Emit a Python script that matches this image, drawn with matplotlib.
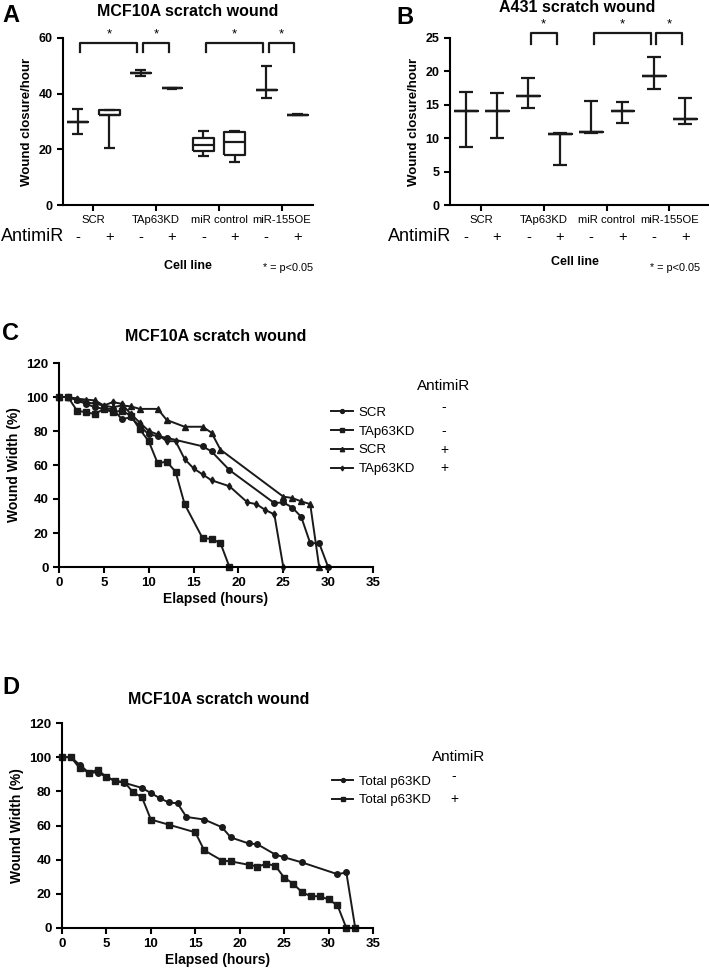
import numpy as np
import matplotlib
matplotlib.use("Agg")
from matplotlib import pyplot as plt

plt.rcParams['font.family'] = ['Liberation Sans', 'DejaVu Sans']

W, H = 709, 968

# panel A / B data (min, q1, median, q3, max per group)
groups = ["SCR", "TAp63KD", "miR control", "miR-155OE"]
antimir = ["-", "+", "-", "+", "-", "+", "-", "+"]

a_min = [25.4, 20.5, 46.3, 41.7, 17.5, 15.5, 38.5, 32.3]
a_q1 = [30.0, 32.5, 47.4, 42.0, 19.5, 17.8, 41.3, 32.5]
a_med = [30.0, 32.5, 47.4, 42.0, 21.7, 22.6, 41.3, 32.5]
a_q3 = [30.0, 34.3, 47.4, 42.0, 23.9, 26.3, 41.3, 32.5]
a_max = [34.6, 34.3, 48.4, 42.2, 26.5, 26.5, 50.0, 32.6]
a_sig = [(0, 2), (2, 3), (4, 6), (6, 7)]

b_min = [8.7, 10.1, 14.5, 6.0, 10.8, 12.3, 17.3, 12.1]
b_med = [14.0, 14.0, 16.3, 10.7, 11.0, 14.0, 19.3, 12.9]
b_max = [16.9, 16.8, 19.0, 10.8, 15.6, 15.4, 22.1, 16.0]
b_sig = [(2, 3), (4, 6), (6, 7)]

# panel C data
c_t_scr_m = [0, 1, 2, 3, 4, 5, 6, 7, 8, 9, 10, 11, 12, 16, 17, 19, 24, 25, 26, 27, 28, 29, 30]
c_w_scr_m = [100, 100, 98, 96, 94, 93, 93, 87, 88, 83, 78, 77, 76, 71, 68, 57, 37.6, 38, 35, 29.5, 14, 14, 0]
c_t_tap_m = [0, 1, 2, 3, 4, 5, 6, 7, 8, 9, 10, 11, 12, 13, 14, 16, 17, 18, 19]
c_w_tap_m = [100, 100, 92, 91, 90, 93, 91, 92, 89, 81, 74, 61, 62, 56, 37, 17, 16.5, 14, 0]
c_t_scr_p = [0, 1, 2, 3, 4, 5, 6, 7, 8, 9, 11, 12, 14, 16, 17, 18, 25, 26, 27, 28, 29]
c_w_scr_p = [100, 100, 99, 98.5, 98, 95, 94, 95, 94.5, 93, 93, 86.5, 82.5, 82.5, 79, 69, 41.4, 40.6, 38.6, 37, 0]
c_t_tap_p = [0, 1, 2, 3, 4, 5, 6, 7, 8, 9, 10, 11, 12, 13, 14, 15, 16, 17, 19, 21, 22, 23, 24, 25]
c_w_tap_p = [100, 100, 99, 97, 96, 95, 97, 96, 90, 85, 80, 78, 74, 74, 63.5, 58, 54.5, 51, 47.5, 38, 37, 33.5, 31, 0]

# panel D data
d_t_m = [0, 1, 2, 3, 4, 5, 6, 7, 9, 10, 11, 12, 13, 14, 16, 18, 19, 21, 22, 24, 25, 27, 31, 32, 33]
d_w_m = [100, 100, 95.5, 91, 91, 88.5, 86, 85, 82, 79, 76, 73.5, 73, 65, 63.5, 59, 53, 49.5, 49, 43, 41.4, 38.4, 31.5, 32.5, 0]
d_t_p = [0, 1, 2, 3, 4, 5, 6, 7, 8, 9, 10, 12, 15, 16, 18, 19, 21, 22, 23, 24, 25, 26, 27, 28, 29, 30, 31, 32, 33]
d_w_p = [100, 100, 93.5, 91, 92.5, 88.5, 86, 85.5, 79.5, 76.5, 63.5, 60.5, 56, 45.5, 39.5, 39, 37, 36, 37.5, 36.5, 29.5, 26, 21, 18.6, 18.6, 16.7, 13.3, 0, 0]

fig = plt.figure(figsize=(W / 100, H / 100), dpi=100)


def add_ax(left, top, right, bottom):
    return fig.add_axes([left / W, 1 - bottom / H, (right - left) / W, (bottom - top) / H])


def ftext(x, y, s, **kw):
    fig.text(x / W, 1 - y / H, s, **kw)


def style(ax):
    for s in ["top", "right"]:
        ax.spines[s].set_visible(False)
    for s in ["left", "bottom"]:
        ax.spines[s].set_linewidth(1.5)
    ax.tick_params(width=1.5, length=4, direction="out")


def boxes(ax, mn, q1, md, q3, mx, cap, half):
    for i in range(len(mn)):
        kw = dict(color="#1a1a1a", lw=1.6, solid_capstyle="butt", clip_on=False)
        ax.plot([i, i], [mn[i], q1[i]], **kw)
        ax.plot([i, i], [q3[i], mx[i]], **kw)
        ax.plot([i - cap, i + cap], [mn[i], mn[i]], **kw)
        ax.plot([i - cap, i + cap], [mx[i], mx[i]], **kw)
        ax.plot([i - half, i + half, i + half, i - half, i - half],
                [q1[i], q1[i], q3[i], q3[i], q1[i]], **kw)
        ax.plot([i - half, i + half], [md[i], md[i]], **kw)


def brackets(ax, sig, ytop, ydrop, ystar):
    for a, b in sig:
        x0, x1 = a + 0.08, b - 0.1
        ax.plot([x0, x0, x1, x1], [ydrop, ytop, ytop, ydrop], color="#1a1a1a", lw=1.6, clip_on=False)
        ax.text((x0 + x1) / 2, ystar, "*", ha="center", va="center", fontsize=9.5, clip_on=False)


def lower_labels(ax, bottom, height, x_antimir, x_cell, y_cell, x_p, y_p):
    t = ax.get_xaxis_transform()
    for i, s in enumerate(antimir):
        ax.text(i, (bottom - 237) / height, s, transform=t, ha="center", va="center", fontsize=10.5)
    ftext(x_antimir, 237, "AntimiR", ha="left", va="center", fontsize=13)
    ftext(x_cell, y_cell, "Cell line", ha="center", va="center", fontsize=9, fontweight="bold")
    ftext(x_p, y_p, "* = p<0.05", ha="left", va="center", fontsize=7.8)


def bar_axes(ax):
    ax.set_xticks([0.5, 2.5, 4.5, 6.5])
    ax.set_xticklabels(groups, fontsize=8.1)
    for lb in ax.get_yticklabels():
        lb.set_fontweight("bold")
        lb.set_fontsize(9)
    ax.set_ylabel("Wound closure/hour", fontsize=9.5, fontweight="bold", labelpad=4)


# ---- A
ax = add_ax(63, 38, 313, 205)
style(ax)
boxes(ax, a_min, a_q1, a_med, a_q3, a_max, 0.17, 0.33)
brackets(ax, a_sig, 58.3, 55.0, 61.3)
ax.set_xlim(-0.47, 7.49)
ax.set_ylim(0, 60)
ax.set_yticks([0, 20, 40, 60])
bar_axes(ax)
ftext(188, 12, "MCF10A scratch wound", fontsize=11.5, fontweight="bold", ha="center", va="center")
lower_labels(ax, 205, 167, 1, 188, 266, 263, 268)
ftext(2, 15, "A", fontsize=17, fontweight="bold", va="center")

# ---- B
ax = add_ax(450, 38, 708, 205)
style(ax)
boxes(ax, b_min, b_med, b_med, b_med, b_max, 0.22, 0.38)
brackets(ax, b_sig, 25.8, 24.1, 27.0)
ax.set_xlim(-0.5, 7.73)
ax.set_ylim(0, 25)
ax.set_yticks([0, 5, 10, 15, 20, 25])
bar_axes(ax)
ftext(577, 8, "A431 scratch wound", fontsize=11.5, fontweight="bold", ha="center", va="center")
lower_labels(ax, 205, 167, 388, 575, 262, 650, 268)
ftext(396, 17, "B", fontsize=17, fontweight="bold", va="center")


# ---- C / D
def line_panel(ax):
    style(ax)
    ax.set_xlim(0, 35)
    ax.set_ylim(0, 120)
    ax.set_xticks(range(0, 36, 5))
    ax.set_yticks(range(0, 121, 20))
    for lb in ax.get_xticklabels() + ax.get_yticklabels():
        lb.set_fontweight("bold")
        lb.set_fontsize(9.5)
    ax.set_xlabel("Elapsed (hours)", fontsize=10, fontweight="bold", labelpad=2)
    ax.set_ylabel("Wound Width (%)", fontsize=10, fontweight="bold", labelpad=4)


kw = dict(color="#1a1a1a", lw=1.4, clip_on=False)
ax = add_ax(59, 363, 373, 567)
line_panel(ax)
h1, = ax.plot(c_t_scr_m, c_w_scr_m, marker="o", ms=4, **kw)
h2, = ax.plot(c_t_tap_m, c_w_tap_m, marker="s", ms=4.5, **kw)
h3, = ax.plot(c_t_scr_p, c_w_scr_p, marker="^", ms=4.5, **kw)
h4, = ax.plot(c_t_tap_p, c_w_tap_p, marker="d", ms=3.5, **kw)
ftext(216, 337, "MCF10A scratch wound", fontsize=11.5, fontweight="bold", ha="center", va="center")
ax.legend([h1, h2, h3, h4], ["SCR", "TAp63KD", "SCR", "TAp63KD"], loc="upper left",
          bbox_to_anchor=(0.83, 0.845), frameon=False, fontsize=9.5, handlelength=1.6,
          labelspacing=0.5, handletextpad=0.45, markerscale=0.7)
ftext(417, 386, "AntimiR", fontsize=11, va="center")
for y, s in zip([407, 431, 450, 468], ["-", "-", "+", "+"]):
    ftext(444, y, s, fontsize=10, ha="center", va="center")
ftext(2, 333, "C", fontsize=17, fontweight="bold", va="center")

ax = add_ax(62, 723, 373, 928)
line_panel(ax)
g1, = ax.plot(d_t_m, d_w_m, marker="o", ms=4, **kw)
g2, = ax.plot(d_t_p, d_w_p, marker="s", ms=4.5, **kw)
ftext(219, 699, "MCF10A scratch wound", fontsize=11.5, fontweight="bold", ha="center", va="center")
ax.legend([g1, g2], ["Total p63KD", "Total p63KD"], loc="upper left",
          bbox_to_anchor=(0.83, 0.80), frameon=False, fontsize=9.5, handlelength=1.6,
          labelspacing=0.45, handletextpad=0.45, markerscale=0.7)
ftext(432, 757, "AntimiR", fontsize=11, va="center")
for y, s in zip([776, 799], ["-", "+"]):
    ftext(454, y, s, fontsize=10, ha="center", va="center")
ftext(2, 688, "D", fontsize=17, fontweight="bold", va="center")

fig.savefig("out.png", dpi=100)
